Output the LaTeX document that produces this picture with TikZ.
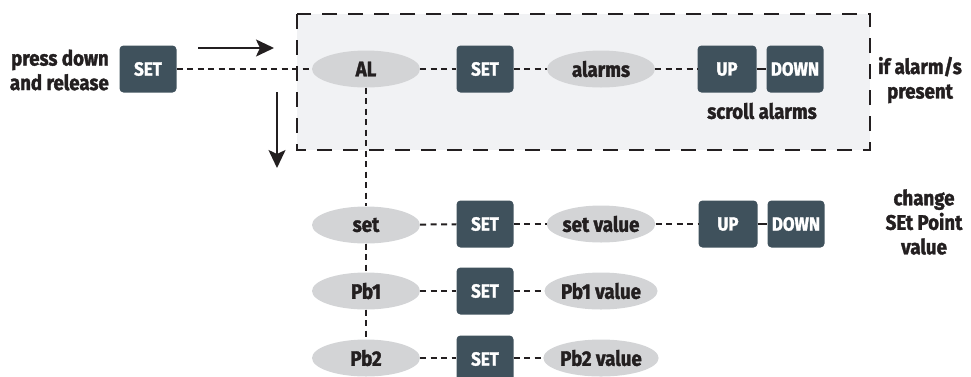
\documentclass[tikz,border=0pt]{standalone}
\usepackage{fontspec}
\setmainfont{Fira Sans}[FakeStretch=0.89, BoldFeatures={FakeBold=1.6}]
\usetikzlibrary{shapes.geometric,arrows.meta}
\definecolor{keyfill}{HTML}{3F515C}
\definecolor{pillfill}{HTML}{D3D4D6}
\definecolor{panelfill}{HTML}{F1F2F4}
\definecolor{ink}{HTML}{231F20}
\tikzset{
  key/.style={draw=none, fill=keyfill, rounded corners=4pt, minimum width=57pt,
    minimum height=47pt, inner sep=0pt, text=white,
    font=\fontsize{19}{22}\selectfont\bfseries},
  pill/.style={ellipse, fill=pillfill, minimum width=108pt, minimum height=37pt,
    inner sep=0pt, text=ink, font=\fontsize{21}{24}\selectfont\bfseries},
  caption/.style={text=ink, align=center, inner sep=0pt,
    font=\fontsize{21}{24.5}\selectfont\bfseries},
  link/.style={draw=ink, line width=2pt, dash pattern=on 6pt off 4.5pt},
  joint/.style={draw=ink, line width=2pt},
  flow/.style={draw=ink, line width=1.8pt, -{Stealth[length=18pt,width=17pt,inset=4pt]}},
  panel/.style={draw=ink, fill=panelfill, line width=2.2pt, dash pattern=on 15pt off 11pt}
}
\begin{document}
\begin{tikzpicture}[x=1pt,y=-1pt]
\useasboundingbox (0,0) rectangle (971,376);
\clip (0,0) rectangle (971,376);

% alarm panel
\draw[panel] (297,14) rectangle (870,150);

% entry key
\node[caption, align=right, anchor=east] (press) at (109,70) {press down\\and release};
\node[key] (set0) at (148,69) {SET};

% alarm row
\node[pill] (al) at (366,69) {AL};
\node[key] (set1) at (485,69) {SET};
\node[pill] (alarms) at (601,69) {alarms};
\node[key, minimum width=59pt] (up1) at (727,69) {UP};
\node[key] (down1) at (795,69) {DOWN};
\node[caption] (scroll) at (762,111) {scroll alarms};
\node[caption] (ifal) at (920,80) {if alarm/s\\present};

% set point row
\node[pill] (setp) at (366,225) {set};
\node[key] (set2) at (485,224) {SET};
\node[pill] (setv) at (601,224) {set value};
\node[key, minimum width=59pt] (up2) at (728,224) {UP};
\node[key] (down2) at (796,224) {DOWN};
\node[caption] (chg) at (924,222) {change\\SEt Point\\value};

% probe rows
\node[pill] (pb1) at (366,291) {Pb1};
\node[key] (set3) at (485,291) {SET};
\node[pill] (pb1v) at (601,291) {Pb1 value};
\node[pill] (pb2) at (366,358) {Pb2};
\node[key] (set4) at (485,359) {SET};
\node[pill] (pb2v) at (601,358) {Pb2 value};

% connectors
\draw[link] (set0) -- (al);
\draw[link] (al) -- (set1);
\draw[link] (set1) -- (alarms);
\draw[link] (alarms) -- (up1);
\draw[joint] (up1) -- (down1);

\draw[link] (al) -- (setp);
\draw[link] (setp) -- (pb1);
\draw[link] (pb1) -- (pb2);

\draw[link] (setp) -- (set2);
\draw[link] (set2) -- (setv);
\draw[link] (setv) -- (up2);
\draw[joint] (up2) -- (down2);

\draw[link] (pb1) -- (set3);
\draw[link] (set3) -- (pb1v);
\draw[link] (pb2) -- (set4.west |- pb2);
\draw[link] (set4.east |- pb2v) -- (pb2v);

% direction arrows
\coordinate (ra) at (198,48);
\coordinate (rb) at (274,48);
\coordinate (da) at (277,92);
\coordinate (db) at (277,168);
\draw[flow] (ra) -- (rb);
\draw[flow] (da) -- (db);
\end{tikzpicture}
\end{document}
